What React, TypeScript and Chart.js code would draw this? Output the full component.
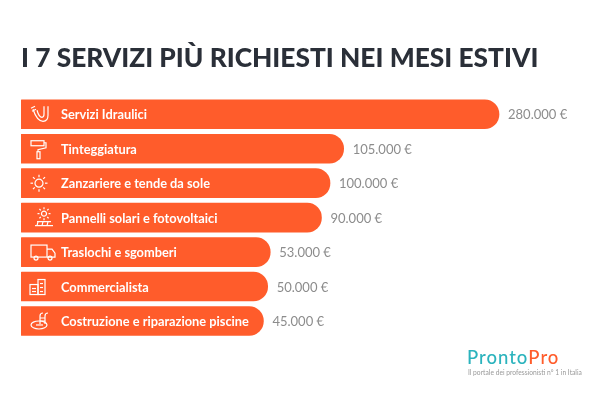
import React, { useEffect, useRef } from "react";
import { Chart, registerables } from "chart.js";

Chart.register(...registerables);

const titleText = "I 7 SERVIZI PIÙ RICHIESTI NEI MESI ESTIVI";
const categories = [
  "Servizi Idraulici",
  "Tinteggiatura",
  "Zanzariere e tende da sole",
  "Pannelli solari e fotovoltaici",
  "Traslochi e sgomberi",
  "Commercialista",
  "Costruzione e riparazione piscine",
];
// The amounts printed next to each bar.
const amounts = ["280.000 €", "105.000 €", "100.000 €", "90.000 €", "53.000 €", "50.000 €", "45.000 €"];
// The drawn bar lengths of the infographic are not proportional to the printed amounts:
// these are the lengths, in units where the first bar is 280000.
const drawnLengths = [280000, 189000, 181000, 176000, 146000, 144500, 142000];
const logoLeft = "Pronto";
const logoRight = "Pro";
const logoTagline = "Il portale dei professionisti n° 1 in Italia";

type Ctx = CanvasRenderingContext2D;

function line(c: Ctx, pts: number[]) {
  c.beginPath();
  c.moveTo(pts[0], pts[1]);
  for (let i = 2; i < pts.length; i += 2) c.lineTo(pts[i], pts[i + 1]);
  c.stroke();
}

function sun(c: Ctx, x: number, y: number, r: number, ray: number) {
  c.beginPath();
  c.arc(x, y, r, 0, Math.PI * 2);
  c.stroke();
  for (let i = 0; i < 8; i++) {
    const a = (i * Math.PI) / 4;
    line(c, [x + Math.cos(a) * (r + 2), y + Math.sin(a) * (r + 2), x + Math.cos(a) * (r + 2 + ray), y + Math.sin(a) * (r + 2 + ray)]);
  }
}

const icons: ((c: Ctx) => void)[] = [
  (c) => {
    line(c, [-9, -6, -5, -8]);
    line(c, [-8, -3, -4, -5]);
    c.beginPath();
    c.moveTo(-7, -5);
    c.quadraticCurveTo(-3, 7, 3, 7);
    c.quadraticCurveTo(8, 7, 8, 1);
    c.lineTo(8, -8);
    c.moveTo(-3, -4);
    c.quadraticCurveTo(-1, 3, 2, 3);
    c.quadraticCurveTo(4, 3, 4, 0);
    c.lineTo(4, -8);
    c.stroke();
  },
  (c) => {
    c.strokeRect(-7, -8, 13, 5);
    line(c, [6, -6, 8, -6, 8, -1, 0, 1, 0, 3]);
    c.strokeRect(-1, 3, 3, 7);
  },
  (c) => sun(c, 0, 0, 4, 2.5),
  (c) => {
    sun(c, 0, -4, 2.5, 2);
    line(c, [-9, 8, 9, 8]);
    line(c, [-7, 4, 7, 4]);
    line(c, [-6, 4, -7, 8]);
    line(c, [-1, 4, -2, 8]);
    line(c, [4, 4, 3, 8]);
  },
  (c) => {
    c.strokeRect(-12, -7, 16, 12);
    line(c, [4, -3, 9, -3, 12, 1, 12, 5, 4, 5]);
    c.beginPath();
    c.arc(-7, 6, 2, 0, Math.PI * 2);
    c.moveTo(9, 6);
    c.arc(7, 6, 2, 0, Math.PI * 2);
    c.stroke();
  },
  (c) => {
    c.strokeRect(-8, -2, 8, 10);
    c.strokeRect(0, -7, 7, 15);
    line(c, [-6, 2, -2, 2]);
    line(c, [-6, 5, -2, 5]);
    line(c, [2, -3, 5, -3]);
    line(c, [2, 1, 5, 1]);
    line(c, [2, 5, 5, 5]);
  },
  (c) => {
    c.beginPath();
    c.ellipse(-1, 4, 8, 4, 0, 0, Math.PI * 2);
    c.stroke();
    line(c, [-4, 4, 3, 4]);
    c.beginPath();
    c.moveTo(0, 3);
    c.lineTo(0, -5);
    c.quadraticCurveTo(0, -8, 3, -8);
    c.moveTo(5, 3);
    c.lineTo(5, -5);
    c.quadraticCurveTo(5, -8, 8, -8);
    c.moveTo(0, -3);
    c.lineTo(5, -3);
    c.moveTo(0, 0);
    c.lineTo(5, 0);
    c.stroke();
  },
];
const iconCenterOffset = [19, 17, 18, 23, 22, 17, 19];

const decorations = {
  id: "decorations",
  afterDatasetsDraw(chart: any) {
    const c: Ctx = chart.ctx;
    const bars = chart.getDatasetMeta(0).data;
    c.save();
    bars.forEach((bar: any, i: number) => {
      c.textBaseline = "middle";
      c.textAlign = "left";
      c.fillStyle = "#ffffff";
      c.font = "bold 12.8px Lato";
      c.fillText(categories[i], 61, bar.y + 1);
      c.fillStyle = "#8c8c8c";
      c.font = "13px Lato";
      c.fillText(amounts[i], bar.x + 9, bar.y + 1);
      c.save();
      c.translate(21 + iconCenterOffset[i], bar.y);
      c.strokeStyle = "#ffffff";
      c.lineWidth = 1.2;
      icons[i](c);
      c.restore();
    });
    c.textBaseline = "alphabetic";
    c.font = "500 18.5px Lato";
    (c as any).letterSpacing = "1px";
    c.fillStyle = "#2bb3bd";
    c.fillText(logoLeft, 467, 364);
    const w = c.measureText(logoLeft).width;
    c.fillStyle = "#ff5c2b";
    c.fillText(logoRight, 467 + w, 364);
    (c as any).letterSpacing = "0px";
    c.fillStyle = "#9a9a9a";
    c.font = "6.7px Lato";
    c.fillText(logoTagline, 468, 375);
    c.restore();
  },
};

export default function App() {
  const ref = useRef<HTMLCanvasElement>(null);
  useEffect(() => {
    const chart = new Chart(ref.current!, {
      type: "bar",
      data: {
        labels: categories,
        datasets: [
          {
            data: drawnLengths,
            backgroundColor: "#ff5c2b",
            barThickness: 29,
            borderSkipped: false,
            borderRadius: { topLeft: 1, bottomLeft: 1, topRight: 14.5, bottomRight: 14.5 },
          },
        ],
      },
      options: {
        indexAxis: "y",
        animation: false,
        responsive: false,
        layout: { padding: { left: 21, right: 10, top: 0, bottom: 55.8 } },
        scales: {
          x: { display: false, min: 0, max: 333300 },
          y: { display: false },
        },
        plugins: {
          legend: { display: false },
          tooltip: { enabled: false },
          title: {
            display: true,
            text: titleText,
            align: "start",
            color: "#2a2f38",
            font: { family: "Lato", size: 26.3, weight: "900", lineHeight: 1.2 },
            padding: { top: 43, bottom: 22.5 },
          },
        },
      },
      plugins: [decorations],
    });
    return () => chart.destroy();
  }, []);
  return (
    <canvas
      ref={ref}
      width={600}
      height={394}
      style={{ position: "absolute", left: 0, top: 0, width: 600, height: 394, display: "block" }}
    />
  );
}
